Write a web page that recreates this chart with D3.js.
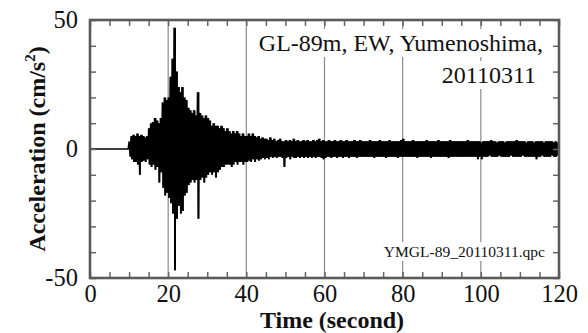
<!DOCTYPE html>
<html>
<head>
<meta charset="utf-8">
<script src="https://cdn.jsdelivr.net/npm/d3@7"></script>
<style>
  html, body { margin: 0; padding: 0; background: #fff; }
  svg { display: block; }
  text { font-family: "Liberation Serif", "Times New Roman", serif; fill: #111; }
</style>
</head>
<body>
<div id="chart"></div>
<script>
// Acceleration record, GL-89m EW, Yumenoshima, 2011-03-11.
// Envelope in 0.5 s bins: max (HI) and min (LO), cm/s^2.
const BIN_SECONDS = 0.5;
const HI = [
  0,0,0,0,0,0,0,0,0,0, 0,0,0,0,0,0,0,0,0,0,                       // 0-10
  3,5,5.5,5,6,5,5.5,5,4.5,5, 8,10,10.5,12,11,10,12,18,20,19,       // 10-20
  20,28,35,47,30,24,22,24,20,19, 16,15,14,15,13,22,14,13,12,13,    // 20-30
  12,11,9,10,9,9,8,9,8,7, 8,7,6,7,6,7,6,5,6,5,                     // 30-40
  5,6,5,6,5,4.5,5,4,4.5,4, 4,3.5,4.5,3.5,4,3,3.5,4,3,3,            // 40-50
  3.5,3,3.5,3,4,3,3.5,3,3,3.5, 3,3.5,3,3,3.5,3,3.5,4,3,3.5,        // 50-60
  3,3,3.5,3,3,3.5,3,3,3.5,3, 3,3.5,3,3,3,3.5,3,3,3.5,3,
  3,3,3,3.5,3,3,3,3,3.5,3, 3,3,3,3.5,3,3,3,3,3,3.5,
  4,3,3,3,3,3.5,3,3,3,3, 3,3,3.5,3,3,3,3,3,3.5,3,
  3,3,3,3,3.5,3,3,3,3,3, 3,3,3,3.5,3,3,3,3,3,3,
  2.5,3,3,3,3,3.5,3,3,2.5,3, 3,3,2.5,3,3,3,3,3,3.5,3,
  3,3,3,2.5,3,3,3,2.5,3,3, 3,3,2.5,3,3,3,3,2.5,3,2.5              // 110-120
];
const LO = [
  0,0,0,0,0,0,0,0,0,0, 0,0,0,0,0,0,0,0,0,0,
  -3,-4,-5,-5,-6,-10,-5,-4.5,-5,-4, -6,-7,-6,-8,-7,-13,-9,-15,-18,-17,
  -19,-21,-25,-47,-27,-22,-25,-24,-18,-17, -14,-13,-12,-13,-12,-27,-12,-11,-13,-11,
  -10,-9,-10,-9,-11,-9,-8,-7,-7,-6, -6,-6,-7,-6,-5,-6,-5,-5,-6,-5,
  -5,-4.5,-5,-4,-5,-4,-4.5,-4,-3.5,-4, -3.5,-4,-3,-3.5,-3,-3.5,-3,-3,-3.5,-7,
  -3.5,-3,-4,-3,-3.5,-3.5,-3,-3.5,-3,-3.5, -3,-3.5,-3,-3.5,-3,-3.5,-3,-3,-3.5,-4,
  -3.5,-3,-3,-3.5,-3,-3,-3.5,-3,-3,-3.5, -3,-3,-3.5,-3,-3,-3,-3.5,-3,-3,-3,
  -3,-3,-3,-3,-3,-3.5,-3,-3,-3,-3, -3,-3.5,-3,-3,-3,-3,-3,-3.5,-3,-3,
  -3,-3,-3,-3,-3,-3,-3,-3.5,-3,-3, -3,-3,-3,-3,-3.5,-3,-3,-3,-3,-3,
  -3,-3,-3,-3.5,-3,-3,-3,-3,-3,-3, -3,-3,-3,-3,-3,-3,-3,-3,-4,-3,
  -4,-3,-3,-3,-2.5,-3,-3,-3,-3,-2.5, -3,-3,-3,-3,-3,-2.5,-3,-3,-3,-3,
  -3,-2.5,-3,-3,-3,-3,-3,-3,-4,-3, -3,-2.5,-3,-3,-3,-3,-2.5,-3,-3,-2.5
];

const TIME_DOMAIN = [0, 120];
const ACC_DOMAIN = [-50, 50];
const TIME_LABELS = [0, 20, 40, 60, 80, 100, 120];
const TIME_MINOR_STEP = 5;
const ACC_LABELS = [-50, 0, 50];
const ACC_MINOR_STEP = 10;
const GRID_TIMES = [20, 40, 60, 80, 100];

const TITLE_LINES = ["GL-89m, EW, Yumenoshima,", "20110311"];
const FILE_NOTE = "YMGL-89_20110311.qpc";
const X_TITLE = "Time (second)";
const Y_TITLE = "Acceleration (cm/s";

const w = 588, h = 333;
const margin = { top: 20, right: 29, bottom: 55, left: 90 };

const svg = d3.select("#chart").append("svg")
  .attr("width", w)
  .attr("height", h);

const x = d3.scaleLinear().domain(TIME_DOMAIN).range([margin.left, w - margin.right]);
const y = d3.scaleLinear().domain(ACC_DOMAIN).range([h - margin.bottom, margin.top]);

// gridlines
svg.append("g")
  .selectAll("line")
  .data(GRID_TIMES)
  .join("line")
  .attr("x1", (d) => x(d)).attr("x2", (d) => x(d))
  .attr("y1", y(ACC_DOMAIN[1])).attr("y2", y(ACC_DOMAIN[0]))
  .attr("stroke", "#8a8a8a")
  .attr("stroke-width", 1.2);

// waveform: solid envelope band + zig-zag between each bin's max and min
const bins = HI.map((v, i) => ({ t: i * BIN_SECONDS + BIN_SECONDS / 2, hi: v, lo: LO[i] }));

svg.append("path")
  .datum(bins.filter((d) => d.hi !== 0 || d.lo !== 0))
  .attr("fill", "#000")
  .attr("d", d3.area().curve(d3.curveStep)
    .x((d) => x(d.t)).y0((d) => y(d.lo)).y1((d) => y(d.hi)));

const pts = [];
bins.forEach((d) => {
  pts.push([d.t - BIN_SECONDS / 2, d.hi]);
  pts.push([d.t, d.lo]);
});
pts.push([TIME_DOMAIN[1], 0]);

svg.append("path")
  .datum(pts)
  .attr("fill", "none")
  .attr("stroke", "#000")
  .attr("stroke-width", 1.4)
  .attr("d", d3.line().x((d) => x(d[0])).y((d) => y(d[1])));

// labels inside the plot, on white boxes
function boxedText(g, pad) {
  const b = g.node().getBBox();
  g.insert("rect", ":first-child")
    .attr("x", b.x - pad).attr("y", b.y - 1)
    .attr("width", b.width + pad * 2).attr("height", b.height + 2)
    .attr("fill", "#fff");
}

const t1 = svg.append("g");
t1.append("text")
  .attr("x", 543).attr("y", 51)
  .attr("text-anchor", "end")
  .style("font-size", "24px")
  .text(TITLE_LINES[0]);
boxedText(t1, 3);
const t2 = svg.append("g");
t2.append("text")
  .attr("x", 536).attr("y", 83)
  .attr("text-anchor", "end")
  .style("font-size", "24px")
  .text(TITLE_LINES[1]);
boxedText(t2, 3);

const note = svg.append("g");
note.append("text")
  .attr("x", 545).attr("y", 257)
  .attr("text-anchor", "end")
  .style("font-size", "15.5px")
  .text(FILE_NOTE);
boxedText(note, 2);

// axes: inward ticks on all four sides
const tickLen = 6;
const xTicks = d3.range(TIME_DOMAIN[0], TIME_DOMAIN[1] + 1, TIME_MINOR_STEP);
const yTicks = d3.range(ACC_DOMAIN[0], ACC_DOMAIN[1] + 1, ACC_MINOR_STEP);

function styleAxis(g) {
  g.select(".domain").remove();
  g.selectAll(".tick line").attr("stroke", "#666").attr("stroke-width", 1.5);
  g.selectAll(".tick text")
    .style("font-family", "'Liberation Serif', 'Times New Roman', serif")
    .style("font-size", "24.5px")
    .attr("fill", "#111");
}

svg.append("g")
  .attr("transform", `translate(0,${h - margin.bottom})`)
  .call(d3.axisBottom(x).tickValues(xTicks).tickSize(-tickLen).tickPadding(7)
    .tickFormat((d) => TIME_LABELS.includes(d) ? d : ""))
  .call(styleAxis);
svg.append("g")
  .attr("transform", `translate(0,${margin.top})`)
  .call(d3.axisTop(x).tickValues(xTicks).tickSize(-tickLen).tickFormat(""))
  .call(styleAxis);
svg.append("g")
  .attr("transform", `translate(${margin.left},0)`)
  .call(d3.axisLeft(y).tickValues(yTicks).tickSize(-tickLen).tickPadding(12)
    .tickFormat((d) => ACC_LABELS.includes(d) ? d : ""))
  .call(styleAxis);
svg.append("g")
  .attr("transform", `translate(${w - margin.right},0)`)
  .call(d3.axisRight(y).tickValues(yTicks).tickSize(-tickLen).tickFormat(""))
  .call(styleAxis);

// frame
svg.append("rect")
  .attr("x", margin.left).attr("y", margin.top)
  .attr("width", w - margin.left - margin.right)
  .attr("height", h - margin.top - margin.bottom)
  .attr("fill", "none")
  .attr("stroke", "#5a5a5a")
  .attr("stroke-width", 2.6);

// axis titles
svg.append("text")
  .attr("x", 332)
  .attr("y", 327.5)
  .attr("text-anchor", "middle")
  .style("font-size", "24px")
  .style("font-weight", "bold")
  .text(X_TITLE);

const yt = svg.append("text")
  .attr("transform", `translate(45,${(margin.top + h - margin.bottom) / 2}) rotate(-90)`)
  .attr("text-anchor", "middle")
  .style("font-size", "24px")
  .style("font-weight", "bold");
yt.append("tspan").text(Y_TITLE);
yt.append("tspan").attr("dy", -10).style("font-size", "15px").text("2");
yt.append("tspan").attr("dy", 10).text(")");
</script>
</body>
</html>
